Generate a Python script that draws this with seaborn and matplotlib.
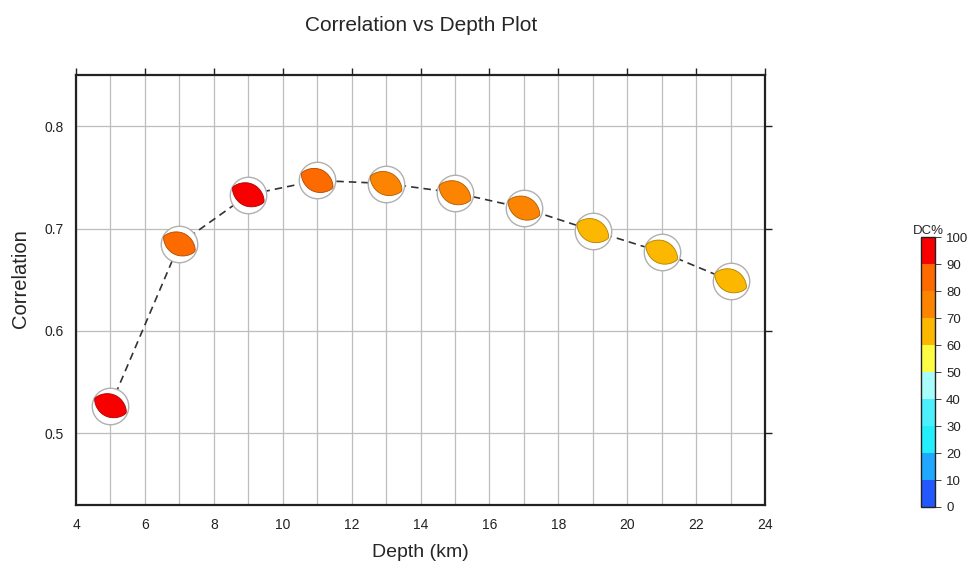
import matplotlib
matplotlib.use("Agg")
import matplotlib.pyplot as plt
import numpy as np
import pandas as pd
import seaborn as sns
from matplotlib.colors import ListedColormap, BoundaryNorm, to_rgb
from matplotlib.path import Path
from matplotlib.ticker import MultipleLocator

# Données
depth = [5, 7, 9, 11, 13, 15, 17, 19, 21, 23]
correlation = [0.527, 0.685, 0.733, 0.747, 0.744, 0.735, 0.720, 0.698, 0.677, 0.649]
dc_percent = [95, 85, 95, 85, 78, 76, 76, 65, 65, 65]

dc_bounds = [0, 10, 20, 30, 40, 50, 60, 70, 80, 90, 100]
dc_colors = ["#2358ff", "#20a8ff", "#22eefc", "#4cf0fc", "#a8fcfc",
             "#fcfc44", "#fcb800", "#fc8400", "#fc6a00", "#f80000"]

df = pd.DataFrame({"depth": depth, "corr": correlation, "dc": dc_percent})

sns.set_theme(style="white")
plt.rcParams["font.family"] = ["Liberation Sans", "DejaVu Sans"]

cmap = ListedColormap(dc_colors)
norm = BoundaryNorm(dc_bounds, cmap.N)

fig = plt.figure(figsize=(9.76, 5.63), dpi=100)
ax = fig.add_axes([0.0779, 0.103, 0.706, 0.7638])

# Ligne pointillée reliant les mécanismes
sns.lineplot(data=df, x="depth", y="corr", ax=ax, color="#333333",
             linestyle=(0, (4.5, 3)), linewidth=1.2, zorder=2)

# Cercle blanc de la sphère focale
circle_s = 690
sns.scatterplot(data=df, x="depth", y="corr", ax=ax, s=circle_s, marker="o",
                color="white", edgecolor="#b0b0b0", linewidth=1.0, zorder=3,
                legend=False)

# Lentille colorée (mécanisme) à l'intérieur du cercle
t = np.linspace(-1, 1, 80)
half = 0.64 * (1 - t ** 2) ** 0.72
xs = np.concatenate([0.97 * t, 0.97 * t[::-1]])
ys = np.concatenate([half, -half[::-1]])
ang = np.deg2rad(-25)
rx = xs * np.cos(ang) - ys * np.sin(ang)
ry = xs * np.sin(ang) + ys * np.cos(ang)
verts = np.column_stack([rx, ry])
lens = Path(np.vstack([verts, verts[:1]]), closed=True)
m = np.max(np.abs(verts))

face = [cmap(norm(v)) for v in dc_percent]
edge = [tuple(c * 0.7 for c in to_rgb(f)) for f in face]
ax.scatter(df["depth"], df["corr"], s=circle_s * m ** 2 * 0.95, marker=lens,
           c=face, edgecolors=edge, linewidths=0.6, zorder=4)

ax.set_xlim(4, 24)
ax.set_ylim(0.43, 0.85)
ax.xaxis.set_major_locator(MultipleLocator(2))
ax.xaxis.set_minor_locator(MultipleLocator(1))
ax.yaxis.set_major_locator(MultipleLocator(0.1))
ax.grid(which="both", axis="x", color="#bdbdbd", linewidth=0.9)
ax.grid(which="major", axis="y", color="#bdbdbd", linewidth=0.9)
ax.set_axisbelow(True)
ax.tick_params(which="major", direction="out", length=5, width=1.0,
               colors="#222222", labelsize=10, top=True, right=True,
               labeltop=False, labelright=False, pad=4)
ax.tick_params(which="minor", length=0)
for s in ax.spines.values():
    s.set_linewidth(1.6)
    s.set_color("#222222")

ax.set_xlabel("")
ax.set_ylabel("")
fig.text(0.431, 0.019, "Depth (km)", ha="center", va="center", fontsize=14)
fig.text(0.021, 0.505, "Correlation", ha="center", va="center", fontsize=14.5,
         rotation=90)
fig.text(0.431, 0.955, "Correlation vs Depth Plot", ha="center", va="center",
         fontsize=15)

# Barre de couleur DC%
cax = fig.add_axes([0.9437, 0.0995, 0.0143, 0.479])
sm = plt.cm.ScalarMappable(cmap=cmap, norm=norm)
cb = fig.colorbar(sm, cax=cax, ticks=dc_bounds)
cb.outline.set_linewidth(1.0)
cb.outline.set_edgecolor("#222222")
cax.tick_params(labelsize=9.5, length=4, width=0.6, colors="#222222", pad=4)
cax.set_title("DC%", fontsize=9.5, pad=2)

plt.savefig("out.png", dpi=100)
